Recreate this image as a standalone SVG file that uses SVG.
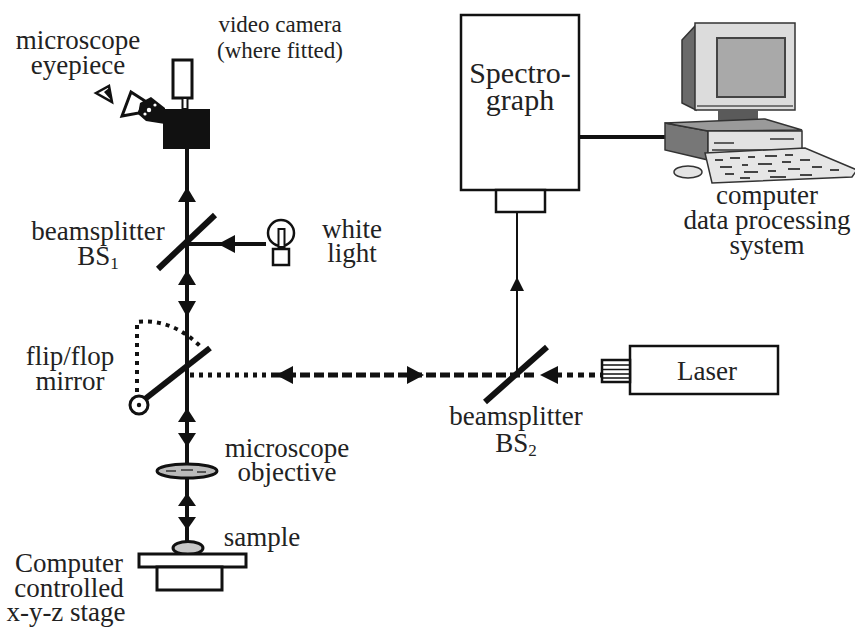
<svg xmlns="http://www.w3.org/2000/svg" width="855" height="628" viewBox="0 0 855 628">
  <style>
    text { font-family: "Liberation Serif", "DejaVu Serif", serif; }
    .lbl { font-size: 27px; fill: #222; text-anchor: middle; }
    .small { font-size: 23px; }
    .big { font-size: 30px; }
    .sub { font-size: 17px; }
    .beam { stroke: #111; stroke-width: 4; fill: none; }
    .thin { stroke: #111; stroke-width: 2; fill: none; }
    .head { fill: #111; }
    .mirror { stroke: #111; stroke-width: 6; fill: none; }
    .outline { fill: #fff; stroke: #111; stroke-width: 3; }
    .dots { stroke: #111; stroke-width: 5; stroke-dasharray: 4 5; fill: none; }
    .dashes { stroke: #111; stroke-width: 5; stroke-dasharray: 10 4; fill: none; }
  </style>

  <!-- optical paths -->
  <g id="connectors">
    <!-- main vertical microscope axis -->
    <line class="beam" x1="187" y1="149" x2="187" y2="542"/>
    <polygon class="head" points="187,187 178,202 196,202"/>
    <polygon class="head" points="187,270 178,285 196,285"/>
    <polygon class="head" points="187,317 178,301 196,301"/>
    <polygon class="head" points="187,408 178,422 196,422"/>
    <polygon class="head" points="187,447 178,433 196,433"/>
    <polygon class="head" points="187,493 178,506 196,506"/>
    <polygon class="head" points="187,530 178,517 196,517"/>
    <!-- white light into BS1 -->
    <line class="beam" x1="187" y1="244" x2="266" y2="244"/>
    <polygon class="head" points="218,244 235,235 235,253"/>
    <!-- laser path -->
    <line class="dots" x1="190" y1="375" x2="272" y2="375"/>
    <line class="dashes" x1="272" y1="375" x2="536" y2="375"/>
    <line class="dashes" x1="556" y1="375" x2="602" y2="375" style="stroke-dasharray:6 5"/>
    <polygon class="head" points="276,375 293,366 293,384"/>
    <polygon class="head" points="424,375 407,366 407,384"/>
    <polygon class="head" points="540,375 558,366 558,384"/>
    <!-- BS2 to spectrograph -->
    <line class="thin" x1="517" y1="212" x2="517" y2="375"/>
    <polygon class="head" points="517,277 510,291 524,291"/>
    <!-- spectrograph to computer -->
    <line class="beam" x1="579" y1="137" x2="665" y2="137"/>
  </g>

  <g id="camera">
    <rect class="outline" x="173" y="60" width="19" height="38"/>
    <rect x="182.5" y="98" width="5" height="11" fill="#fff" stroke="#111" stroke-width="2"/>
    <rect x="163" y="109" width="47" height="40" fill="#111"/>
  </g>

  <g id="eyepiece">
    <!-- eye symbol -->
    <polygon points="96,93 109,86 112,102" fill="#fff" stroke="#111" stroke-width="2.5"/>
    <polygon points="104,92 109,88 111,100" fill="#111"/>
    <!-- eyepiece cone, wide end towards the viewer -->
    <polygon class="outline" points="122,116 131,92 145,101 139,113"/>
    <!-- eyepiece barrel joining the camera head -->
    <polygon points="140,103 151,97 165,108 165,124 146,121 138,114" fill="#111"/>
    <circle cx="149" cy="110" r="2.2" fill="#fff"/>
    <circle cx="155" cy="105" r="1.6" fill="#fff"/>
    <circle cx="145" cy="114" r="1.6" fill="#fff"/>
  </g>

  <g id="bs1">
    <line class="mirror" x1="158" y1="269" x2="215" y2="215"/>
  </g>

  <g id="lamp">
    <circle cx="281" cy="233" r="13" fill="#fff" stroke="#111" stroke-width="2.5"/>
    <rect x="278.5" y="229" width="6" height="18" fill="#fff" stroke="#111" stroke-width="2"/>
    <rect x="273" y="249" width="16" height="16" fill="#fff" stroke="#111" stroke-width="2.5"/>
  </g>

  <g id="flip-mirror">
    <path d="M137,392 L137,322 Q172,318 201,347" stroke="#111" stroke-width="4" stroke-dasharray="4 5" fill="none"/>
    <line class="mirror" x1="145" y1="399" x2="210" y2="348"/>
    <circle cx="139" cy="405" r="9" fill="#fff" stroke="#111" stroke-width="3"/>
    <circle cx="139" cy="405" r="2.2" fill="#111"/>
  </g>

  <g id="objective">
    <ellipse cx="187" cy="471" rx="30" ry="7" fill="#bbb" stroke="#111" stroke-width="3"/>
    <path d="M166,471 h10 M181,470 h12 M197,472 h9" stroke="#555" stroke-width="2"/>
  </g>

  <g id="stage">
    <ellipse cx="188" cy="548" rx="15" ry="6.5" fill="#c8c8c8" stroke="#111" stroke-width="3"/>
    <rect class="outline" x="139" y="554" width="107" height="13"/>
    <rect class="outline" x="157" y="567" width="65" height="23"/>
  </g>

  <g id="bs2">
    <line class="mirror" x1="485" y1="402" x2="547" y2="347"/>
  </g>

  <g id="laser">
    <rect x="630" y="346" width="148" height="48" fill="#fff" stroke="#111" stroke-width="2.5"/>
    <rect x="602" y="360" width="28" height="22" fill="#fff" stroke="#111" stroke-width="2.5"/>
    <path d="M603,365 h26 M603,369.5 h26 M603,374 h26 M603,378 h26" stroke="#111" stroke-width="1.3"/>
    <text class="lbl" x="707" y="380">Laser</text>
  </g>

  <g id="spectrograph">
    <rect x="461" y="15" width="118" height="175" fill="#fff" stroke="#111" stroke-width="2.5"/>
    <rect x="496" y="190" width="49" height="22" fill="#fff" stroke="#111" stroke-width="2.5"/>
    <text class="lbl big" x="520" y="83">Spectro-</text>
    <text class="lbl big" x="520" y="110">graph</text>
  </g>

  <g id="computer">
    <!-- monitor -->
    <polygon points="682,40 696,25 696,110 682,103" fill="#6a6a6a" stroke="#333" stroke-width="1.5"/>
    <rect x="695" y="23" width="100" height="87" fill="#dcdcdc" stroke="#333" stroke-width="1.5"/>
    <rect x="717" y="38" width="68" height="59" fill="#a9a9a9" stroke="#444" stroke-width="2"/>
    <line x1="697" y1="106" x2="793" y2="106" stroke="#555" stroke-width="1.5"/>
    <rect x="718" y="110" width="40" height="11" fill="#5a5a5a"/>
    <!-- desktop case -->
    <polygon points="665,123 708,131 708,160 665,150" fill="#777" stroke="#333" stroke-width="1.5"/>
    <polygon points="665,123 765,119 802,130 708,131" fill="#9a9a9a" stroke="#333" stroke-width="1.5"/>
    <rect x="708" y="131" width="94" height="27" fill="#e2e2e2" stroke="#333" stroke-width="1.5"/>
    <path d="M770,139 h24 M714,143 h20 M712,150 h86" stroke="#333" stroke-width="1.5"/>
    <!-- mouse -->
    <ellipse cx="688" cy="172" rx="14" ry="6" fill="#e4e4e4" stroke="#333" stroke-width="1.5"/>
    <!-- keyboard -->
    <polygon points="705,153 805,148 857,170 852,177 712,183" fill="#e6e6e6" stroke="#333" stroke-width="1.5"/>
    <path d="M715,160 h8 M730,158 h10 M748,157 h7 M765,156 h12 M785,155 h8 M720,167 h12 M742,165 h6 M758,164 h14 M782,162 h9 M800,160 h10 M725,174 h9 M744,172 h14 M768,171 h8 M788,169 h12 M812,167 h10 M830,170 h9 M740,178 h10 M770,177 h16 M800,175 h12" stroke="#444" stroke-width="2"/>
  </g>

  <!-- labels -->
  <g id="labels">
    <text class="lbl small" x="280" y="32">video camera</text>
    <text class="lbl small" x="280" y="58">(where fitted)</text>
    <text class="lbl" x="78" y="49">microscope</text>
    <text class="lbl" x="78" y="74">eyepiece</text>
    <text class="lbl" x="98" y="240">beamsplitter</text>
    <text class="lbl" x="98" y="265">BS<tspan class="sub" dy="4">1</tspan></text>
    <text class="lbl" x="352" y="238">white</text>
    <text class="lbl" x="352" y="262">light</text>
    <text class="lbl" x="70" y="365">flip/flop</text>
    <text class="lbl" x="70" y="390">mirror</text>
    <text class="lbl" x="287" y="457">microscope</text>
    <text class="lbl" x="287" y="481">objective</text>
    <text class="lbl" x="262" y="546">sample</text>
    <text class="lbl" x="69" y="572">Computer</text>
    <text class="lbl" x="69" y="597">controlled</text>
    <text class="lbl" x="66" y="621">x-y-z stage</text>
    <text class="lbl" x="516" y="425">beamsplitter</text>
    <text class="lbl" x="516" y="452">BS<tspan class="sub" dy="4">2</tspan></text>
    <text class="lbl" x="767" y="204">computer</text>
    <text class="lbl" x="767" y="229">data processing</text>
    <text class="lbl" x="767" y="254">system</text>
  </g>
</svg>
